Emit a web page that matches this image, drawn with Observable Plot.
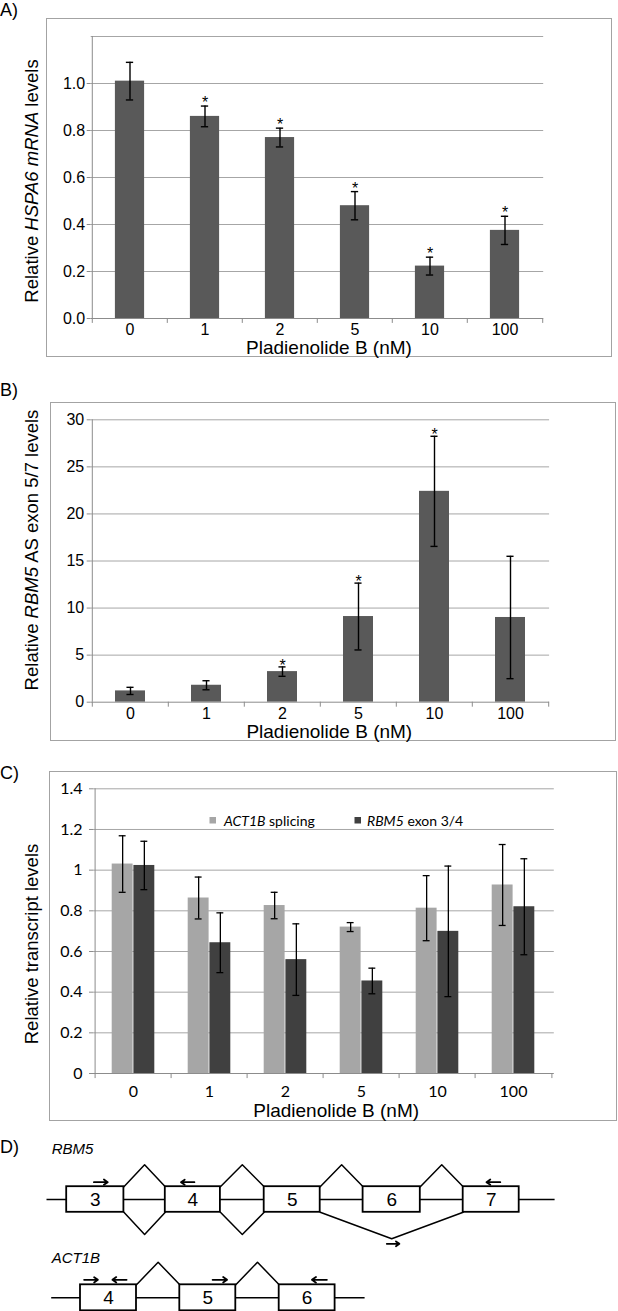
<!DOCTYPE html>
<html><head><meta charset="utf-8">
<script src="https://cdn.jsdelivr.net/npm/d3@7"></script>
<script src="https://cdn.jsdelivr.net/npm/@observablehq/plot@0.6"></script>
<style>
body{margin:0;background:#fff;}
#fig{position:relative;width:618px;height:1311px;overflow:hidden;background:#fff;font-family:"Liberation Sans",Arial,sans-serif;}
#fig > svg{position:absolute;left:0;}
.box{position:absolute;border:1px solid #a3a3a3;box-sizing:border-box;pointer-events:none;}
</style></head><body><div id="fig"></div>
<script>
// ---------- data ----------
const doses = ["0", "1", "2", "5", "10", "100"];
// Panel A: HSPA6 mRNA
const hspa6Mean = [1.01, 0.86, 0.77, 0.48, 0.223, 0.375];
const hspa6Err  = [0.08, 0.044, 0.04, 0.06, 0.038, 0.06];
const hspa6Sig  = [0, 1, 1, 1, 1, 1];
// Panel B: RBM5 AS exon 5/7
const rbm5AsMean = [1.2, 1.8, 3.25, 9.1, 22.4, 9.0];
const rbm5AsErr  = [0.38, 0.48, 0.5, 3.55, 5.85, 6.5];
const rbm5AsSig  = [0, 0, 1, 1, 1, 0];
// Panel C
const seriesC = ["ACT1B", "RBM5"];
const seriesCSuffix = [" splicing", " exon 3/4"];
const act1bMean = [1.03, 0.863, 0.826, 0.72, 0.813, 0.927];
const act1bErr  = [0.139, 0.103, 0.065, 0.022, 0.16, 0.199];
const rbm5Mean  = [1.023, 0.643, 0.56, 0.455, 0.699, 0.82];
const rbm5Err   = [0.119, 0.147, 0.176, 0.063, 0.321, 0.236];
// Panel D: gene diagrams (diagram units)
const genes = ["RBM5", "ACT1B"];
const rbm5Exons = ["3", "4", "5", "6", "7"];
const rbm5ExonStart = [66.2, 164.8, 263.7, 362.6, 462.7];
const rbm5ExonEnd   = [123.4, 219.9, 319.7, 419.8, 518.7];
const act1bExons = ["4", "5", "6"];
const act1bExonStart = [80, 179.3, 278.7];
const act1bExonEnd   = [136, 235.3, 334.6];
// junctions: [gene, fromExon, toExon, side(+1 up / -1 down), depth]
const junctions = [
  [0, 0, 1, 1, 34.7], [0, 0, 1, -1, 35], [0, 1, 2, 1, 34.7], [0, 1, 2, -1, 35],
  [0, 2, 3, 1, 34.7], [0, 3, 4, 1, 34.7], [0, 2, 4, -1, 39.3],
  [1, 0, 1, 1, 35.6], [1, 1, 2, 1, 35.6]
];
// primers: [gene, from, to, offset from row]
const primers = [
  [0, 93.4, 107.2, -17.3], [0, 193.9, 180.5, -17.3], [0, 499.8, 486, -17.3], [0, 386.3, 398.9, 44.3],
  [1, 83.6, 97.4, -18], [1, 126.1, 111.9, -18], [1, 212.1, 226.6, -18], [1, 326.4, 311.4, -18]
];
const geneRow = [1199, 1297.3];
const geneBackbone = [[46.5, 554.6], [51.2, 364.6]];

// ---------- styles ----------
const FONT = "'Liberation Sans', Arial, sans-serif";
const FONT_C = "Lato, 'Liberation Sans', sans-serif";
const GRID = "#a6a6a6", AXIS = "#8c8c8c";
const fig = document.getElementById("fig");

function place(svg, top) { svg.style.top = top + "px"; svg.style.left = "0px"; fig.appendChild(svg); }

function barPanel(rows, o) {
  const bw = (618 - o.mL - o.mR) / doses.length;
  const capIn = (bw - o.cap) / 2;
  return Plot.plot({
    width: 618, height: o.h,
    marginTop: o.mT, marginBottom: o.mB, marginLeft: o.mL, marginRight: o.mR,
    style: {background: "transparent", fontFamily: FONT, fontSize: "16px", color: "#000", overflow: "visible"},
    x: {type: "band", domain: doses, padding: 0},
    y: {domain: [0, o.yMax]},
    marks: [
      Plot.gridY(o.grid, {stroke: GRID, strokeOpacity: 1}),
      Plot.barY(rows, {x: "dose", y: "v", fill: "#595959", insetLeft: o.barInset, insetRight: o.barInset}),
      Plot.ruleX(rows, {x: "dose", y1: d => d.v - d.e, y2: d => d.v + d.e, stroke: "#000", strokeWidth: 1.4}),
      Plot.tickY(rows, {x: "dose", y: d => d.v + d.e, insetLeft: capIn, insetRight: capIn, stroke: "#000", strokeWidth: 1.4}),
      Plot.tickY(rows, {x: "dose", y: d => d.v - d.e, insetLeft: capIn, insetRight: capIn, stroke: "#000", strokeWidth: 1.4}),
      Plot.text(rows.filter(d => d.s), {x: "dose", y: d => d.v + d.e, text: () => "*", lineAnchor: "middle", dy: o.starDy, fontSize: 16}),
      Plot.ruleY([0], {stroke: AXIS}),
      Plot.ruleX([doses[0]], {x: d => d, dx: -bw / 2, stroke: AXIS}),
      Plot.ruleX(doses, {x: d => d, dx: -bw / 2, y1: 0, y2: -o.tickLen, stroke: AXIS}),
      Plot.ruleX(doses.slice(-1), {x: d => d, dx: bw / 2, y1: 0, y2: -o.tickLen, stroke: AXIS}),
      Plot.axisY(o.labels, {tickSize: 4, tickPadding: o.yPad, tickFormat: o.fmt, stroke: AXIS, label: null, fontSize: 16}),
      Plot.axisX({tickSize: 0, tickPadding: o.xPad, label: null, fontSize: 16})
    ]
  });
}

// Panel A
const rowsA = doses.map((d, i) => ({dose: d, v: hspa6Mean[i], e: hspa6Err[i], s: hspa6Sig[i]}));
place(barPanel(rowsA, {
  h: 320, mT: 16, mB: 22, mL: 90.7, mR: 74.8, yMax: 1.2,
  grid: [0.2, 0.4, 0.6, 0.8, 1.0, 1.2], labels: [0, 0.2, 0.4, 0.6, 0.8, 1.0], fmt: ".1f",
  tickLen: 0.021, yPad: 2, xPad: 5, barInset: 22.9, cap: 7.7, starDy: -3
}), 20);

// Panel B
const rowsB = doses.map((d, i) => ({dose: d, v: rbm5AsMean[i], e: rbm5AsErr[i], s: rbm5AsSig[i]}));
place(barPanel(rowsB, {
  h: 320, mT: 14.3, mB: 23.3, mL: 90.7, mR: 68.9, yMax: 30,
  grid: [5, 10, 15, 20, 25, 30], labels: [0, 5, 10, 15, 20, 25, 30], fmt: "d",
  tickLen: 0.53, yPad: 3, xPad: 5.6, barInset: 23, cap: 7.5, starDy: -1.5
}), 405);

// Panel C
{
  const mL = 93, mR = 64.2;
  const bw = (618 - mL - mR) / doses.length;
  const outer = 16.7, barW = 21.7, cap = 7.7;
  const off = barW / 2;
  const rowsC = doses.flatMap((d, i) => [
    {dose: d, s: seriesC[0], v: act1bMean[i], e: act1bErr[i]},
    {dose: d, s: seriesC[1], v: rbm5Mean[i], e: rbm5Err[i]}
  ]);
  const light = rowsC.filter(d => d.s === seriesC[0]);
  const dark = rowsC.filter(d => d.s === seriesC[1]);
  const capL = outer + off - cap / 2, capR = bw - (outer + off + cap / 2);
  const errMarks = (rows, dx, inL, inR) => [
    Plot.ruleX(rows, {x: "dose", y1: d => d.v - d.e, y2: d => d.v + d.e, dx, stroke: "#000", strokeWidth: 1.3}),
    Plot.tickY(rows, {x: "dose", y: d => d.v + d.e, insetLeft: inL, insetRight: inR, stroke: "#000", strokeWidth: 1.3}),
    Plot.tickY(rows, {x: "dose", y: d => d.v - d.e, insetLeft: inL, insetRight: inR, stroke: "#000", strokeWidth: 1.3})
  ];
  place(Plot.plot({
    width: 618, height: 325,
    marginTop: 13.3, marginBottom: 27, marginLeft: mL, marginRight: mR,
    style: {background: "transparent", fontFamily: FONT_C, fontSize: "16px", color: "#000", overflow: "visible"},
    x: {type: "band", domain: doses, padding: 0},
    y: {domain: [0, 1.4]},
    marks: [
      Plot.gridY([0.2, 0.4, 0.6, 0.8, 1.0, 1.2, 1.4], {stroke: GRID, strokeOpacity: 1}),
      Plot.barY(light, {x: "dose", y: "v", fill: "#a6a6a6", insetLeft: outer, insetRight: bw - outer - barW}),
      Plot.barY(dark, {x: "dose", y: "v", fill: "#404040", insetLeft: outer + barW, insetRight: outer}),
      ...errMarks(light, -off, capL, capR),
      ...errMarks(dark, off, capR, capL),
      Plot.ruleY([0], {stroke: AXIS}),
      Plot.ruleX([doses[0]], {x: d => d, dx: -bw / 2, stroke: AXIS}),
      Plot.ruleX(doses, {x: d => d, dx: -bw / 2, y1: 0, y2: -0.025, stroke: AXIS}),
      Plot.ruleX(doses.slice(-1), {x: d => d, dx: bw / 2, y1: 0, y2: -0.025, stroke: AXIS}),
      Plot.axisY([0, 0.2, 0.4, 0.6, 0.8, 1.0, 1.2, 1.4], {tickSize: 4, tickPadding: 7, tickFormat: "~g", stroke: AXIS, label: null, fontSize: 16}),
      Plot.axisX({tickSize: 0, tickPadding: 12, label: null, fontSize: 16})
    ]
  }), 775);
}

// Panel D
{
  const exonRows = [];
  const starts = [rbm5ExonStart, act1bExonStart], ends = [rbm5ExonEnd, act1bExonEnd], labels = [rbm5Exons, act1bExons];
  const halfH = [12.8, 13];
  genes.forEach((g, gi) => labels[gi].forEach((lab, i) => exonRows.push({
    label: lab, x1: starts[gi][i], x2: ends[gi][i], y: geneRow[gi], y1: geneRow[gi] - halfH[gi], y2: geneRow[gi] + halfH[gi]
  })));
  const junctionPts = junctions.flatMap(([gi, a, b, side, depth], id) => {
    const yEdge = geneRow[gi] - side * halfH[gi];
    const xa = ends[gi][a], xb = starts[gi][b];
    return [
      {id, x: xa, y: yEdge},
      {id, x: (xa + xb) / 2, y: geneRow[gi] - side * depth},
      {id, x: xb, y: yEdge}
    ];
  });
  const backbones = genes.map((g, gi) => ({y: geneRow[gi], x1: geneBackbone[gi][0], x2: geneBackbone[gi][1]}));
  const primerRows = primers.map(([gi, x1, x2, o]) => ({x1, x2, y: geneRow[gi] + o}));
  const geneLabels = genes.map((g, gi) => ({g, x: geneBackbone[1][0], y: geneRow[gi] - (gi === 0 ? 50 : 39.6)}));
  place(Plot.plot({
    width: 618, height: 181, margin: 0,
    x: {domain: [0, 618], range: [0, 618], axis: null},
    y: {domain: [1130, 1311], range: [0, 181], axis: null},
    style: {background: "transparent", fontFamily: FONT, color: "#000", overflow: "visible"},
    marks: [
      Plot.ruleY(backbones, {y: "y", x1: "x1", x2: "x2", stroke: "#000", strokeWidth: 1.5}),
      Plot.line(junctionPts, {x: "x", y: "y", z: "id", stroke: "#000", strokeWidth: 1.5}),
      Plot.rect(exonRows, {x1: "x1", x2: "x2", y1: "y1", y2: "y2", fill: "#fff", stroke: "#000", strokeWidth: 1.8}),
      Plot.text(exonRows, {x: d => (d.x1 + d.x2) / 2, y: "y", text: "label", fontSize: 19}),
      Plot.arrow(primerRows, {x1: "x1", x2: "x2", y1: "y", y2: "y", headLength: 5, headAngle: 70, strokeWidth: 1.8, stroke: "#000"}),
      Plot.text(geneLabels, {x: "x", y: "y", text: "g", textAnchor: "start", fontStyle: "italic", fontSize: 15})
    ]
  }), 1130);
}

// ---------- borders ----------
[[45.7, 18.3, 566.4, 339], [49.7, 401.7, 566.4, 339.3], [48.9, 771, 568, 350]].forEach(([l, t, w, h]) => {
  const d = document.createElement("div");
  d.className = "box";
  Object.assign(d.style, {left: l + "px", top: t + "px", width: w + "px", height: h + "px"});
  fig.appendChild(d);
});

// ---------- overlay text ----------
const ov = d3.create("svg").attr("width", 618).attr("height", 1311)
  .style("position", "absolute").style("left", "0px").style("top", "0px")
  .style("pointer-events", "none").style("font-family", FONT);
function label(x, y, s, size, anchor = "start") {
  return ov.append("text").attr("x", x).attr("y", y).attr("font-size", size).attr("text-anchor", anchor).attr("fill", "#000").text(s);
}
label(0, 15.5, "A)", 18);
label(0, 396, "B)", 18);
label(0, 779, "C)", 18);
label(0, 1153, "D)", 18);
label(329, 354, "Pladienolide B (nM)", 19, "middle");
label(329.3, 738, "Pladienolide B (nM)", 19, "middle");
label(336.2, 1116.7, "Pladienolide B (nM)", 19, "middle");
function yTitle(cx, cy, parts) {
  const t = ov.append("text").attr("transform", `translate(${cx},${cy}) rotate(-90)`)
    .attr("text-anchor", "middle").attr("y", "0.35em").attr("font-size", 18.5).attr("fill", "#000");
  parts.forEach(([s, it]) => t.append("tspan").attr("font-style", it ? "italic" : null).text(s));
}
yTitle(31.5, 181, [["Relative "], ["HSPA6 mRNA", 1], [" levels"]]);
yTitle(31.5, 550, [["Relative "], ["RBM5", 1], [" AS exon 5/7 levels"]]);
yTitle(31.5, 944, [["Relative transcript levels"]]);
// legend of panel C
const legX = [[209.5, 224], [354.5, 367]];
const legFill = ["#a6a6a6", "#404040"];
seriesC.forEach((s, i) => {
  ov.append("rect").attr("x", legX[i][0]).attr("y", 817).attr("width", 6.5).attr("height", 6.5).attr("fill", legFill[i]);
  const t = ov.append("text").attr("x", legX[i][1]).attr("y", 826).attr("font-size", 14).attr("font-family", FONT_C).attr("fill", "#000");
  t.append("tspan").attr("font-style", "italic").text(s);
  t.append("tspan").text(seriesCSuffix[i]);
});
fig.appendChild(ov.node());
</script>
</body></html>
